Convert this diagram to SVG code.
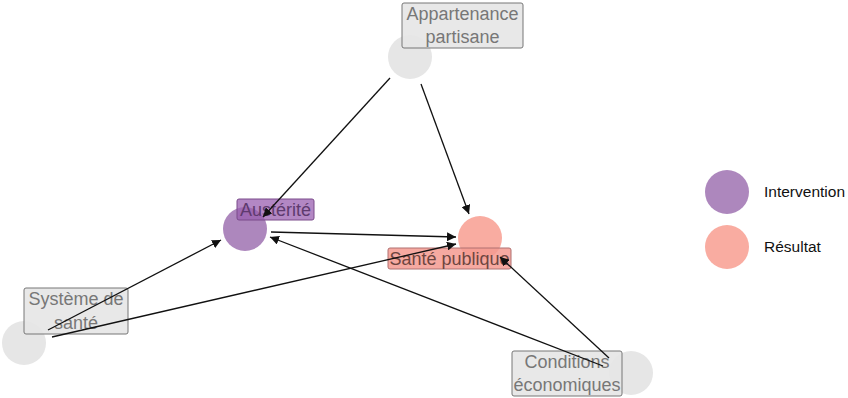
<svg xmlns="http://www.w3.org/2000/svg" width="848" height="398" viewBox="0 0 848 398">
  <style>
    .node-grey { fill: #e6e6e6; }
    .node-int { fill: #ad87bd; }
    .node-res { fill: #f9aca1; }
    .lab { stroke: #777; stroke-width: 1; }
    .lab-grey { fill: #e6e6e6; fill-opacity: 0.9; }
    .lab-int { fill: #9a5fb0; fill-opacity: 0.75; stroke: #7a4a8a; }
    .lab-res { fill: #f59a90; fill-opacity: 0.85; stroke: #b07070; }
    .t { font-family: "Liberation Sans", Arial, sans-serif; font-size: 18px; text-anchor: middle; }
    .t-grey { fill: #777; }
    .t-int { fill: #5e3a6e; }
    .t-res { fill: #6e4540; }
    .leg { font-family: "Liberation Sans", Arial, sans-serif; font-size: 15.5px; fill: #111; }
    .edge { stroke: #111; stroke-width: 1.3; fill: none; marker-end: url(#arr); }
  </style>
  <defs>
    <marker id="arr" viewBox="0 0 10 10" refX="10" refY="5" markerWidth="9" markerHeight="9" markerUnits="userSpaceOnUse" orient="auto">
      <path d="M0,0 L10,5 L0,10 z" fill="#111"/>
    </marker>
  </defs>
  <rect width="848" height="398" fill="#fff"/>

  <g id="node-appartenance">
    <circle class="node-grey" cx="410" cy="57" r="22"/>
    <rect class="lab lab-grey" x="402" y="3" width="121" height="45" rx="2"/>
    <text class="t t-grey" x="462.5" y="20">Appartenance</text>
    <text class="t t-grey" x="462.5" y="43">partisane</text>
  </g>

  <g id="node-austerite">
    <circle class="node-int" cx="245" cy="229" r="22"/>
    <rect class="lab lab-int" x="237" y="199" width="77" height="21" rx="2"/>
    <text class="t t-int" x="275.5" y="216">Austérité</text>
  </g>

  <g id="node-sante-publique">
    <circle class="node-res" cx="480" cy="238" r="22"/>
    <rect class="lab lab-res" x="388" y="248" width="123" height="21" rx="2"/>
    <text class="t t-res" x="449.5" y="265">Santé publique</text>
  </g>

  <g id="node-systeme">
    <circle class="node-grey" cx="24" cy="343" r="22"/>
    <rect class="lab lab-grey" x="24" y="288" width="104" height="46" rx="2"/>
    <text class="t t-grey" x="76" y="305">Système de</text>
    <text class="t t-grey" x="76" y="329">santé</text>
  </g>

  <g id="node-conditions">
    <circle class="node-grey" cx="631" cy="373" r="22"/>
    <rect class="lab lab-grey" x="512" y="351" width="110" height="45" rx="2"/>
    <text class="t t-grey" x="567" y="368">Conditions</text>
    <text class="t t-grey" x="567" y="391">économiques</text>
  </g>

  <g id="connectors">
    <line class="edge" x1="390" y1="78" x2="263" y2="217"/>
    <line class="edge" x1="421" y1="84" x2="469" y2="214"/>
    <line class="edge" x1="271" y1="232" x2="456" y2="237"/>
    <line class="edge" x1="48" y1="330" x2="221" y2="240"/>
    <line class="edge" x1="52" y1="337" x2="456" y2="244"/>
    <line class="edge" x1="603" y1="366" x2="270" y2="237"/>
    <line class="edge" x1="609" y1="358" x2="500" y2="257"/>
  </g>

  <g id="legend">
    <circle class="node-int" cx="727" cy="192" r="22"/>
    <text class="leg" x="764" y="197">Intervention</text>
    <circle class="node-res" cx="727" cy="247" r="22"/>
    <text class="leg" x="764" y="252">Résultat</text>
  </g>
</svg>
